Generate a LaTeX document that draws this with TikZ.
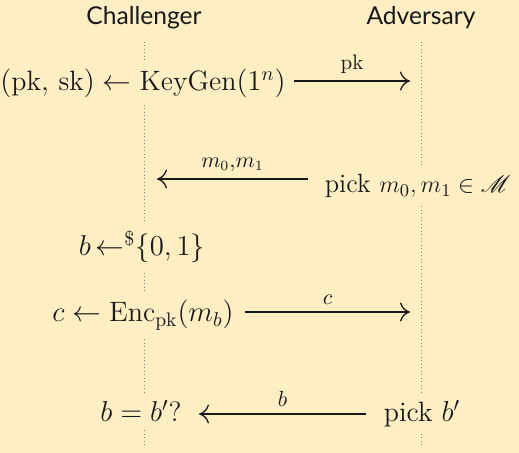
\documentclass[tikz,border=0pt]{standalone}
\usepackage{fontspec}
\usepackage{amssymb}
\usepackage{mathrsfs}
\newfontfamily\hdrfont{Lato}
\usetikzlibrary{arrows.meta}
\definecolor{bgc}{RGB}{253,238,196}
\definecolor{ink}{RGB}{25,25,25}
\begin{document}
\begin{tikzpicture}[x=0.5pt,y=-0.5pt,
  hdr/.style={font=\hdrfont\fontsize{12.3}{14}\selectfont, text=ink, anchor=base},
  txt/.style={font=\fontsize{14}{17}\selectfont, text=ink, fill=bgc, anchor=base, inner xsep=1.5pt},
  lbl/.style={font=\fontsize{10.5}{12}\selectfont, text=ink, above},
  msg/.style={draw=ink, line width=0.65pt, -{Computer Modern Rightarrow[length=5pt,width=9.5pt]}},
  life/.style={draw=gray, line width=0.45pt, dash pattern=on 0.45pt off 1.3pt}]
\fill[bgc] (0,0) rectangle (519,453);
\useasboundingbox (0,0) rectangle (519,453);
% lifelines
\coordinate (cl0) at (144,42); \coordinate (cl1) at (144,448);
\coordinate (al0) at (421.5,42); \coordinate (al1) at (421.5,448);
\draw[life] (cl0) -- (cl1);
\draw[life] (al0) -- (al1);
% headers
\node[hdr] (ch) at (144,25) {Challenger};
\node[hdr] (ad) at (421,25) {Adversary};
% row 1
\node[txt] (r1) at (143,91) {$(\mathrm{pk},\,\mathrm{sk}) \leftarrow \mathrm{KeyGen}(1^n)$};
\coordinate (m1s) at (294,81); \coordinate (m1e) at (410,81);
\draw[msg] (m1s) -- node[lbl] {$\mathrm{pk}$} (m1e);
% row 2
\node[txt, anchor=base east, font=\fontsize{13.2}{16}\selectfont] (r2) at (514,193) {pick $m_0, m_1 \in \mathscr{M}$};
\coordinate (m2s) at (308,179); \coordinate (m2e) at (157,179);
\draw[msg] (m2s) -- node[lbl] {$m_0{,}m_1$} (m2e);
% row 3
\node[txt] (r3) at (142,256) {$b\,{\leftarrow}^{\$}\{0,1\}$};
% row 4
\node[txt] (r4) at (143,322) {$c \leftarrow \mathrm{Enc}_{\mathrm{pk}}(m_b)$};
\coordinate (m4s) at (245,312); \coordinate (m4e) at (410,312);
\draw[msg] (m4s) -- node[lbl] {$c$} (m4e);
% row 5
\node[txt] (r5) at (141,422) {$b = b'$?};
\node[txt] (r6) at (422,422) {pick $b'$};
\coordinate (m5s) at (366,414); \coordinate (m5e) at (199,414);
\draw[msg] (m5s) -- node[lbl] {$b$} (m5e);
\end{tikzpicture}
\end{document}
